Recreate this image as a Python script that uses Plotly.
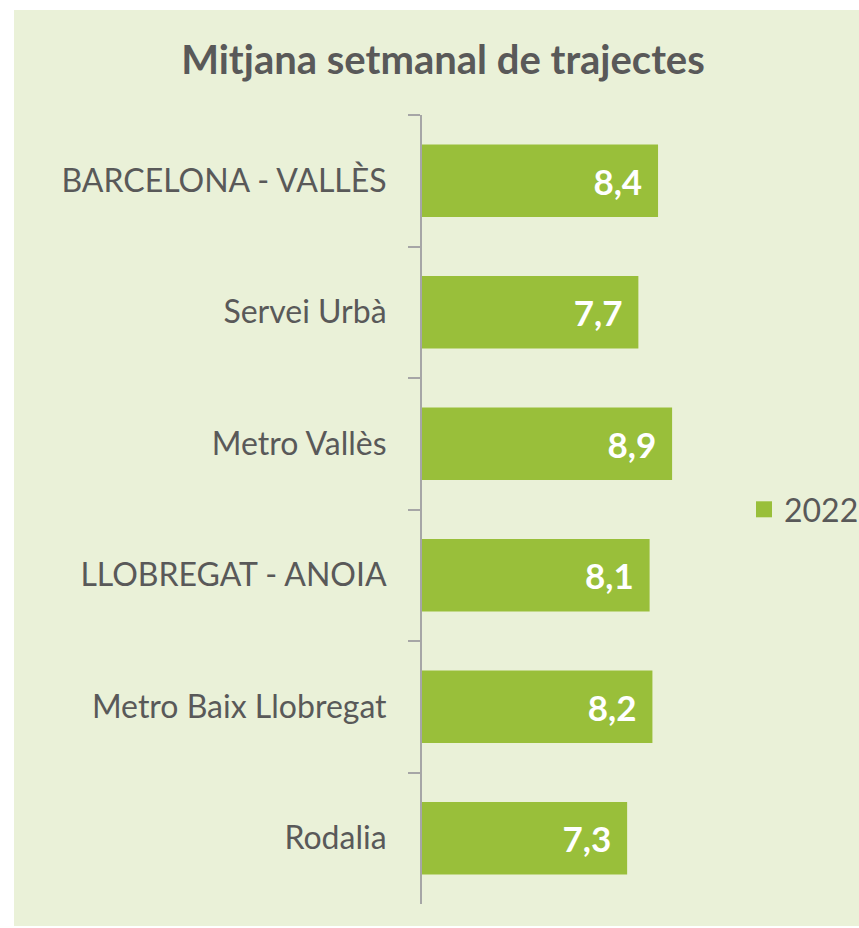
import plotly.graph_objects as go

categories = ["BARCELONA - VALLÈS", "Servei Urbà", "Metro Vallès",
              "LLOBREGAT - ANOIA", "Metro Baix Llobregat", "Rodalia"]
values_2022 = [8.4, 7.7, 8.9, 8.1, 8.2, 7.3]
series_name = "2022"
title_text = "Mitjana setmanal de trajectes"

labels = [f"{v:.1f}".replace(".", ",") + " \u2009" for v in values_2022]

BG = "#EAF1D8"
BAR = "#99BF3A"
GREY = "#595959"
FONT = "Lato"

W, H = 859, 928
L, R, T, B = 422, 156, 115, 24
pw, ph = W - L - R, H - T - B

fig = go.Figure()
fig.add_trace(go.Bar(
    y=categories, x=values_2022, orientation="h", name=series_name,
    marker=dict(color=BAR, line=dict(width=0)),
    text=labels, textposition="inside", insidetextanchor="end",
    textfont=dict(family=FONT, size=35, color="white", weight="bold"),
    cliponaxis=False, showlegend=False,
))
# legend glyph (square swatch) for the series
fig.add_trace(go.Scatter(
    x=[None], y=[None], mode="markers", name=series_name,
    marker=dict(symbol="square", size=20, color=BAR), showlegend=True,
))

def px2paper_x(px):
    return (px - L) / pw

def py2paper_y(py):
    return (H - B - py) / ph

fig.update_layout(
    width=W, height=H,
    margin=dict(l=L, r=R, t=T, b=B, autoexpand=False),
    paper_bgcolor="white", plot_bgcolor=BG,
    bargap=0.45,
    title=dict(text=title_text, x=(443) / W, xanchor="center", y=1 - 60 / H, yanchor="middle",
               font=dict(family=FONT, size=40, color=GREY, weight="bold")),
    showlegend=True,
    legend=dict(x=px2paper_x(744), xanchor="left", y=0.5, yanchor="middle",
                font=dict(family=FONT, size=32, color=GREY), bgcolor="rgba(0,0,0,0)",
                itemsizing="trace"),
    xaxis=dict(range=[0, 10], visible=False, fixedrange=True),
    yaxis=dict(autorange="reversed", showline=True, linecolor="#A6A6A6", linewidth=2,
               ticks="outside", ticklen=12, tickcolor="#A6A6A6", tickwidth=2,
               tickson="boundaries", showgrid=False, zeroline=False,
               ticklabelstandoff=27,
               tickfont=dict(family=FONT, size=32, color=GREY)),
    shapes=[dict(type="rect", xref="paper", yref="paper", layer="below",
                 x0=px2paper_x(14), x1=px2paper_x(W + 5), y0=py2paper_y(926), y1=py2paper_y(10),
                 fillcolor=BG, line=dict(width=0))],
)

fig.write_html("out.html", config={"displayModeBar": False},
               post_script="document.body.style.margin='0';document.body.style.overflow='hidden';")
